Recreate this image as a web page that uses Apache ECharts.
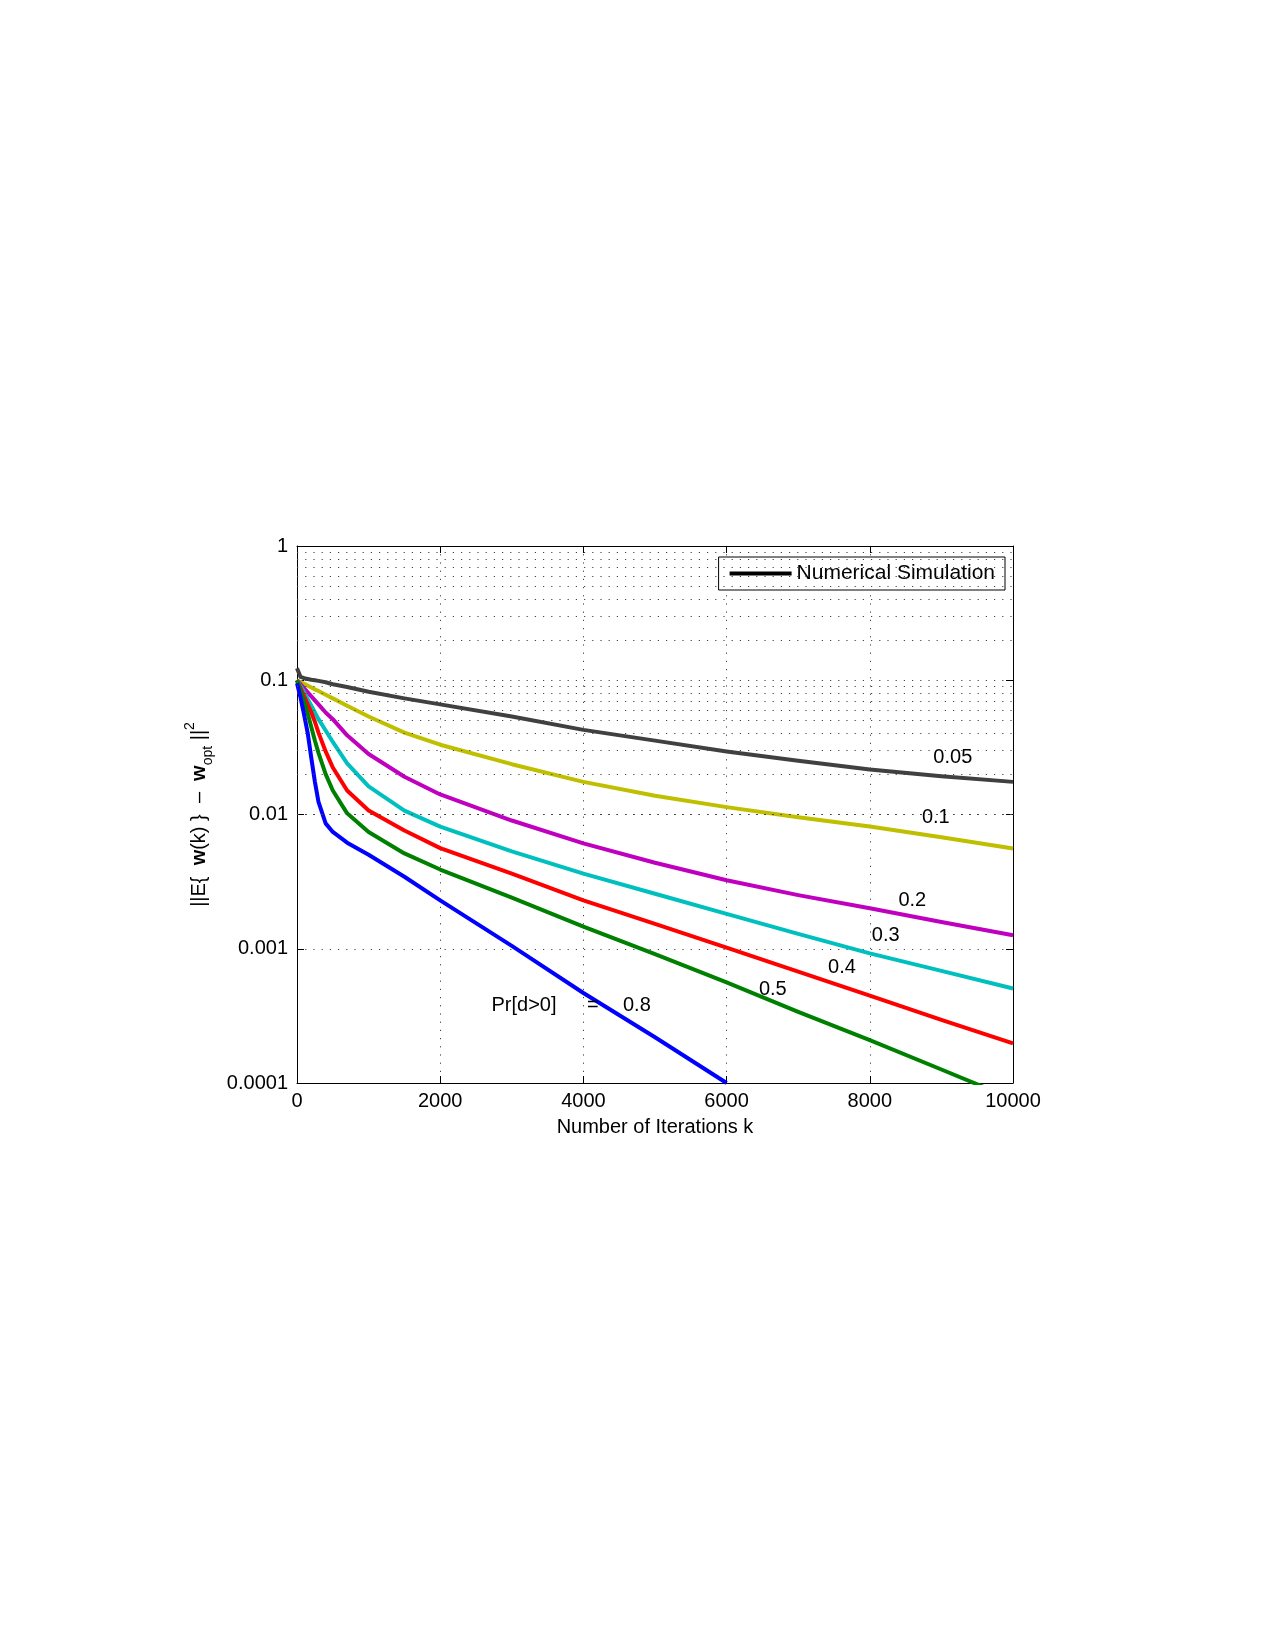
<!DOCTYPE html>
<html>
<head>
<meta charset="utf-8">
<script src="https://cdn.jsdelivr.net/npm/echarts@6/dist/echarts.min.js"></script>
<style>
  html, body { margin: 0; padding: 0; background: #fff; }
  #main { width: 1275px; height: 1650px; }
</style>
</head>
<body>
<div id="main"></div>
<script>
// iteration index k shared by all curves
var iters = [0, 50, 100, 150, 200, 250, 300, 400, 500, 700, 1000, 1500, 2000, 3000, 4000, 5000, 6000, 7000, 8000, 9000, 10000];

// ||E{w(k)} - w_opt||^2 for each Pr[d>0]
var err005 = [0.123, 0.1059, 0.1035, 0.1023, 0.101, 0.1, 0.0989, 0.0966, 0.0933, 0.0891, 0.0822, 0.0733, 0.0661, 0.0537, 0.0427, 0.0355, 0.0295, 0.0251, 0.0216, 0.0193, 0.0175];
var err01  = [0.1, 0.0971, 0.094, 0.0912, 0.0883, 0.0855, 0.0832, 0.078, 0.0733, 0.0646, 0.0537, 0.0407, 0.0331, 0.0237, 0.0175, 0.0138, 0.01135, 0.00955, 0.00813, 0.00676, 0.00558];
var err02  = [0.1, 0.0933, 0.0871, 0.0813, 0.0759, 0.0708, 0.0661, 0.0575, 0.0513, 0.0389, 0.0282, 0.0191, 0.0141, 0.00902, 0.0061, 0.00437, 0.00324, 0.00251, 0.002, 0.00158, 0.00126];
var err03  = [0.1, 0.0902, 0.0813, 0.0724, 0.0646, 0.0575, 0.0513, 0.0422, 0.0347, 0.024, 0.0162, 0.0107, 0.00813, 0.00531, 0.00363, 0.00257, 0.00182, 0.00129, 0.000923, 0.000684, 0.000506];
var err04  = [0.1, 0.0871, 0.0759, 0.0661, 0.0575, 0.049, 0.0407, 0.0295, 0.0224, 0.0151, 0.0107, 0.00759, 0.00562, 0.00363, 0.00229, 0.00153, 0.00102, 0.000676, 0.000447, 0.000295, 0.000197];
var err05  = [0.1, 0.0832, 0.0692, 0.0562, 0.0447, 0.0355, 0.0288, 0.02, 0.0151, 0.0102, 0.00741, 0.00513, 0.00389, 0.0024, 0.00146, 0.000912, 0.000562, 0.000339, 0.000209, 0.000126, 0.0000759];
var err08  = [0.095, 0.0741, 0.055, 0.0403, 0.0263, 0.0175, 0.0124, 0.00859, 0.00741, 0.00617, 0.00501, 0.00344, 0.00229, 0.00105, 0.000468, 0.000219, 0.0001, null, null, null, null];

var curveNames  = ['0.05', '0.1', '0.2', '0.3', '0.4', '0.5', '0.8'];
var curveColors = ['#404040', '#bfbf00', '#bf00bf', '#00bfbf', '#ff0000', '#008000', '#0000ff'];
var curveValues = [err005, err01, err02, err03, err04, err05, err08];

// text placed next to the curves
var noteTexts = ['0.05', '0.1', '0.2', '0.3', '0.4', '0.5', 'Pr[d>0]', '=', '0.8'];
var noteIters = [9166, 8929, 8601, 8229, 7619, 6652, 3177, 4139, 4754];
var noteVals  = [0.0265, 0.00935, 0.00227, 0.001245, 0.000721, 0.000496, 0.000375, 0.000375, 0.000375];

// axis ticks
var xTicks = [0, 2000, 4000, 6000, 8000, 10000];
var yTickLabels = ['0.0001', '0.001', '0.01', '0.1', '1'];
var decades = [0.0001, 0.001, 0.01, 0.1];
var minorSteps = [2, 3, 4, 5, 6, 7, 8, 9];

var FONT = 'Liberation Sans, Arial, sans-serif';
var dotted = { color: '#444', width: 1, type: [1.2, 7] };

var minorGrid = [];
decades.forEach(function (d) {
    minorSteps.forEach(function (m) { minorGrid.push({ yAxis: m * d }); });
});

var series = [{
    // minor log grid lines
    name: 'minor',
    type: 'line',
    data: [],
    z: 1,
    silent: true,
    markLine: {
        silent: true,
        symbol: ['none', 'none'],
        label: { show: false },
        lineStyle: dotted,
        emphasis: { disabled: true },
        data: minorGrid
    }
}, {
    // only used for the legend entry
    name: 'Numerical Simulation',
    type: 'line',
    data: [],
    color: '#000'
}];

curveValues.forEach(function (vals, i) {
    series.push({
        name: curveNames[i],
        type: 'line',
        data: iters.map(function (k, j) { return [k, vals[j]]; }),
        showSymbol: false,
        symbol: 'none',
        smooth: false,
        clip: true,
        z: 3,
        lineStyle: { color: curveColors[i], width: 4, join: 'round' }
    });
});

series.push({
    name: 'notes',
    type: 'scatter',
    symbol: 'circle',
    symbolSize: 1,
    z: 5,
    silent: true,
    itemStyle: { color: 'rgba(0,0,0,0)', opacity: 1 },
    data: noteTexts.map(function (t, i) { return { value: [noteIters[i], noteVals[i]], name: t }; }),
    label: {
        show: true,
        position: [0, 0],
        align: 'center',
        verticalAlign: 'middle',
        formatter: '{b}',
        color: '#000',
        opacity: 1,
        fontSize: 20,
        fontFamily: FONT
    }
});

var myChart = echarts.init(document.getElementById('main'));
myChart.setOption({
    animation: false,
    backgroundColor: '#fff',
    textStyle: { fontFamily: FONT, color: '#000' },
    grid: { left: 297, top: 546, width: 716, height: 537, containLabel: false },
    legend: {
        data: [{ name: 'Numerical Simulation', icon: 'rect' }],
        right: 270,
        top: 557,
        itemWidth: 62,
        itemHeight: 4,
        padding: [6, 10, 6, 11],
        borderColor: '#000',
        borderWidth: 1,
        borderRadius: 0,
        backgroundColor: '#fff',
        selectedMode: false,
        textStyle: { fontSize: 21, color: '#000', fontFamily: FONT }
    },
    xAxis: [{
        type: 'value',
        min: xTicks[0],
        max: xTicks[xTicks.length - 1],
        interval: 2000,
        name: 'Number of Iterations k',
        nameLocation: 'middle',
        nameGap: 34,
        nameTextStyle: { fontSize: 20, color: '#000' },
        axisLine: { onZero: false, lineStyle: { color: '#000', width: 1 } },
        axisTick: { inside: true, length: 7, lineStyle: { color: '#000' } },
        axisLabel: {
            fontSize: 20, color: '#000', margin: 8,
            formatter: function (v) { return String(v); }
        },
        splitLine: { show: true, lineStyle: dotted }
    }, {
        type: 'value',
        position: 'top',
        min: xTicks[0],
        max: xTicks[xTicks.length - 1],
        interval: 2000,
        axisLine: { onZero: false, lineStyle: { color: '#000', width: 1 } },
        axisTick: { inside: true, length: 7, lineStyle: { color: '#000' } },
        axisLabel: { show: false },
        splitLine: { show: false }
    }],
    yAxis: [{
        type: 'log',
        logBase: 10,
        min: 0.0001,
        max: 1,
        name: '||E{  {b|w}(k) }  –  {b|w}{sub|opt} ||{sup|2}',
        nameLocation: 'middle',
        nameRotate: 90,
        nameGap: 82,
        nameTextStyle: {
            fontSize: 20,
            color: '#000',
            lineHeight: 32,
            rich: {
                b: { fontSize: 20, fontWeight: 'bold', color: '#000', fontFamily: FONT },
                sub: { fontSize: 14, verticalAlign: 'bottom', color: '#000', fontFamily: FONT },
                sup: { fontSize: 14, verticalAlign: 'top', color: '#000', fontFamily: FONT }
            }
        },
        axisLine: { onZero: false, lineStyle: { color: '#000', width: 1 } },
        axisTick: { inside: true, length: 7, lineStyle: { color: '#000' } },
        axisLabel: {
            fontSize: 20,
            color: '#000',
            margin: 9,
            formatter: function (v) {
                return yTickLabels[Math.round(Math.log10(v)) + 4];
            }
        },
        splitLine: { show: true, lineStyle: dotted }
    }, {
        type: 'log',
        logBase: 10,
        min: 0.0001,
        max: 1,
        position: 'right',
        axisLine: { onZero: false, lineStyle: { color: '#000', width: 1 } },
        axisTick: { inside: true, length: 7, lineStyle: { color: '#000' } },
        axisLabel: { show: false },
        splitLine: { show: false }
    }],
    series: series
});
</script>
</body>
</html>
